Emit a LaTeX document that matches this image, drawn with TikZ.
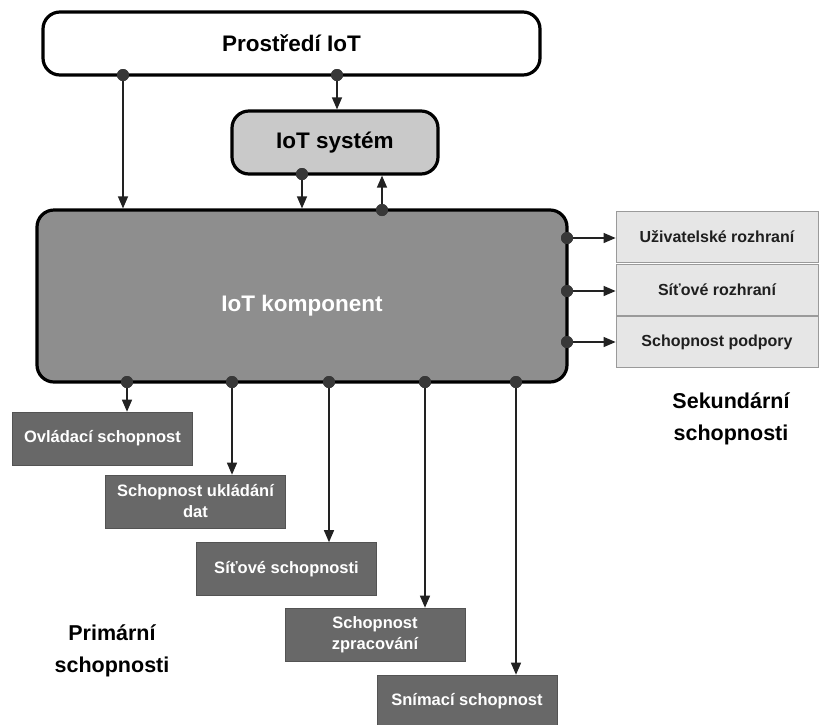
\documentclass[tikz,border=0pt]{standalone}
\usepackage{fontspec}
\setmainfont{Liberation Sans}
\usetikzlibrary{arrows.meta}

\definecolor{envfill}{HTML}{FFFFFF}
\definecolor{sysfill}{HTML}{C9C9C9}
\definecolor{compfill}{HTML}{8E8E8E}
\definecolor{secfill}{HTML}{E6E6E6}
\definecolor{secline}{HTML}{9A9A9A}
\definecolor{primfill}{HTML}{686868}
\definecolor{dotcol}{HTML}{383838}
\definecolor{arrcol}{HTML}{222222}

\begin{document}
\begin{tikzpicture}[x=1pt,y=-1pt,
  bigbox/.style={draw=black, line width=3.2pt, rounded corners=17pt, inner sep=0pt,
    font=\fontsize{22.5}{27}\selectfont\bfseries},
  secbox/.style={draw=secline, line width=0.8pt, fill=secfill, minimum width=202pt,
    minimum height=51pt, inner sep=0pt, text=black!88,
    font=\fontsize{16}{19}\selectfont\bfseries},
  primbox/.style={fill=primfill, draw=primfill!80!black, line width=0.6pt,
    minimum width=180pt, minimum height=53pt, inner sep=0pt,
    align=center, text=white, font=\fontsize{16.5}{21}\selectfont\bfseries},
  port/.style={circle, fill=dotcol, inner sep=0pt, minimum size=12pt},
  link/.style={draw=arrcol, line width=1.3pt, -{Triangle[length=12pt,width=10pt]}},
  grouplabel/.style={align=center, font=\fontsize{21.5}{32}\selectfont\bfseries}
]
\useasboundingbox (0,0) rectangle (822,724);
\fill[white] (0,0) rectangle (822,724);
\clip (0,0) rectangle (822,724);

% main blocks
\node[bigbox, fill=envfill, minimum width=497pt, minimum height=63pt] (env) at (291.5,43.5) {Prostředí IoT};
\node[bigbox, fill=sysfill, minimum width=206pt, minimum height=63pt] (sys) at (335,142.5) {IoT systém};
\node[bigbox, fill=compfill, text=white, minimum width=530pt, minimum height=172pt,
      text height=30pt, text depth=0pt] (comp) at (302,296) {IoT komponent};

% secondary capabilities
\node[secbox] (ui)  at (717,237) {Uživatelské rozhraní};
\node[secbox] (net) at (717,290) {Síťové rozhraní};
\node[secbox] (sup) at (717,342) {Schopnost podpory};

% primary capabilities
\node[primbox] (ctl)  at (102.5,438.5) {Ovládací schopnost};
\node[primbox] (sto)  at (195.5,501.5) {Schopnost ukládání\\dat};
\node[primbox] (nets) at (286.5,569)   {Síťové schopnosti};
\node[primbox] (proc) at (375,634.5)   {Schopnost\\zpracování};
\node[primbox] (sens) at (467,701.5)   {Snímací schopnost};

% group captions
\node[grouplabel] (primlbl) at (112,651) {Primární\\schopnosti};
\node[grouplabel] (seclbl)  at (731,419) {Sekundární\\schopnosti};

% ports on the block borders
\node[port] (e1) at (123,75) {};
\node[port] (e2) at (337,75) {};
\node[port] (s1) at (302,174) {};
\node[port] (c0) at (382,210) {};
\node[port] (r1) at (567,238) {};
\node[port] (r2) at (567,291) {};
\node[port] (r3) at (567,342) {};
\node[port] (b1) at (127,382) {};
\node[port] (b2) at (232,382) {};
\node[port] (b3) at (329,382) {};
\node[port] (b4) at (425,382) {};
\node[port] (b5) at (516,382) {};

% connectors
\draw[link] (e1.center) -- (e1 |- comp.north);
\draw[link] (e2.center) -- (e2 |- sys.north);
\draw[link] (s1.center) -- (s1 |- comp.north);
\draw[link] (c0.center) -- (c0 |- sys.south);
\draw[link] (r1.center) -- (r1 -| ui.west);
\draw[link] (r2.center) -- (r2 -| net.west);
\draw[link] (r3.center) -- (r3 -| sup.west);
\draw[link] (b1.center) -- (b1 |- ctl.north);
\draw[link] (b2.center) -- (b2 |- sto.north);
\draw[link] (b3.center) -- (b3 |- nets.north);
\draw[link] (b4.center) -- (b4 |- proc.north);
\draw[link] (b5.center) -- (b5 |- sens.north);

% redraw ports on top of the connectors
\foreach \p in {e1,e2,s1,c0,r1,r2,r3,b1,b2,b3,b4,b5}
  \fill[dotcol] (\p) circle (6pt);
\end{tikzpicture}
\end{document}
